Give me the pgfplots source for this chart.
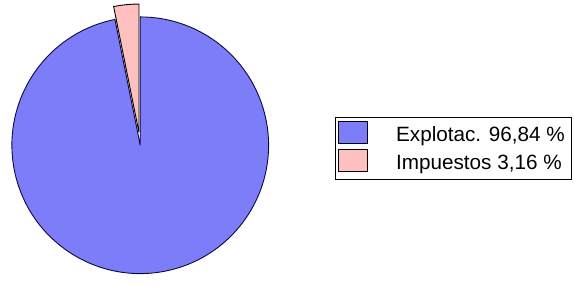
\documentclass[border=0pt]{standalone}
\usepackage{pgfplots}
\pgfplotsset{compat=1.18}
\usetikzlibrary{calc}
\usepackage{fontspec}
\setmainfont{Liberation Sans}
\definecolor{pieblue}{RGB}{125,125,250}
\definecolor{piepink}{RGB}{255,192,192}
\definecolor{pieedge}{RGB}{10,10,60}
\begin{document}
\begin{tikzpicture}
% data (percent)
\def\valA{96.84}% Explotac.
\def\valB{3.16}% Impuestos
\pgfmathsetmacro{\angB}{90+\valB*3.6}
\pgfmathsetmacro{\angMid}{90+\valB*1.8}
\begin{axis}[
  width=574pt, height=278pt, scale only axis,
  xmin=0, xmax=574, ymin=0, ymax=278,
  hide axis, clip=false,
]
\path (axis cs:0,0) rectangle (axis cs:574,278);
% blue slice
\filldraw[fill=pieblue, draw=pieedge, line width=0.9pt]
  (axis cs:138,132) -- ++(\angB:129pt) arc[start angle=\angB, end angle=450, radius=129pt] -- cycle;
% pink slice (exploded)
\filldraw[fill=piepink, draw=black, line width=0.9pt]
  ($(axis cs:138,132)+(\angMid:13pt)$) -- ++(90:129pt) arc[start angle=90, end angle=\angB, radius=129pt] -- cycle;
% legend
\draw[black, line width=0.9pt, fill=white] (axis cs:334,160) rectangle (axis cs:571,97.5);
\filldraw[fill=pieblue, draw=black, line width=0.9pt] (axis cs:337.5,134) rectangle (axis cs:366.5,156);
\filldraw[fill=piepink, draw=black, line width=0.9pt] (axis cs:337.5,106) rectangle (axis cs:366.5,128);
\node[anchor=base west, inner sep=0pt, font=\fontsize{20.8}{24}\selectfont] at (axis cs:395,135.3)
  {Explotac. 96,84 \%};
\node[anchor=base west, inner sep=0pt, font=\fontsize{20.8}{24}\selectfont] at (axis cs:395,107.5)
  {Impuestos 3,16 \%};
\end{axis}
\end{tikzpicture}
\end{document}
